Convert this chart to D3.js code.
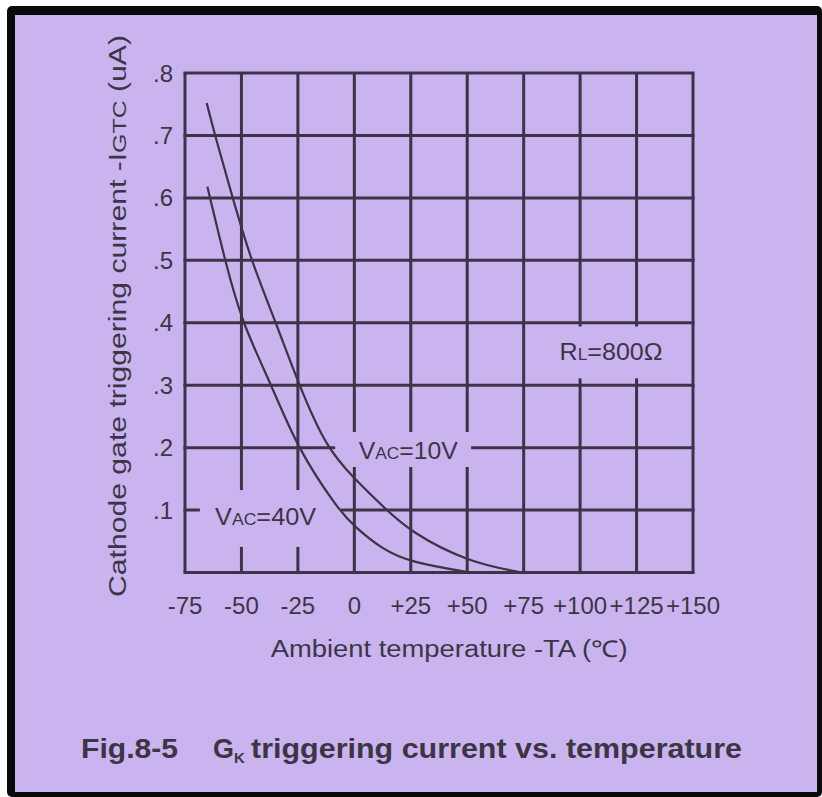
<!DOCTYPE html>
<html>
<head>
<meta charset="utf-8">
<script src="https://cdn.jsdelivr.net/npm/d3@7"></script>
<style>
  html, body { margin: 0; padding: 0; background: #fff; }
  svg { display: block; }
  text { font-family: "Liberation Sans", Arial, sans-serif; fill: #3c3545; }
</style>
</head>
<body>
<div class="chart"></div>
<script>
// axis ticks
var tempTicks = [-75, -50, -25, 0, 25, 50, 75, 100, 125, 150];
var tempLabels = ["-75", "-50", "-25", "0", "+25", "+50", "+75", "+100", "+125", "+150"];
var currentTicks = [0, 0.1, 0.2, 0.3, 0.4, 0.5, 0.6, 0.7, 0.8];
var currentLabels = ["", ".1", ".2", ".3", ".4", ".5", ".6", ".7", ".8"];

// VAC = 10V curve
var temp10V = [-65.4, -61.7, -53.9, -45.8, -34.7, -24.5, -12.5, 0, 14.3, 25, 50, 74.3];
var igt10V = [0.752, 0.70, 0.60, 0.50, 0.40, 0.30, 0.20, 0.150, 0.10, 0.065, 0.017, 0];

// VAC = 40V curve
var temp40V = [-65.1, -63.9, -57.3, -49.8, -36.6, -25.4, -7, 0, 12, 25, 51.5];
var igt40V = [0.618, 0.60, 0.50, 0.40, 0.30, 0.20, 0.10, 0.074, 0.038, 0.016, 0];

var width = 822, height = 797;
var ink = "#3c3446";

var svg = d3.select(".chart").append("svg")
  .attr("width", width).attr("height", height);

// frame
svg.append("rect").attr("x", 7).attr("y", 6).attr("width", 815).attr("height", 791)
  .attr("rx", 5).attr("fill", "#0a0a0a");
svg.append("rect").attr("x", 15).attr("y", 15).attr("width", 802).attr("height", 777)
  .attr("fill", "#c9b4ef");

var x = d3.scaleLinear().domain([-75, 150]).range([185, 693]);
var y = d3.scaleLinear().domain([0, 0.8]).range([572.5, 73]);

// grid
var grid = svg.append("g").attr("stroke", ink).attr("stroke-width", 3);
grid.selectAll(".v").data(tempTicks).enter().append("line")
  .attr("x1", d => x(d)).attr("x2", d => x(d))
  .attr("y1", y(0.8)).attr("y2", y(0));
grid.selectAll(".h").data(currentTicks).enter().append("line")
  .attr("x1", x(-75) - 1.5).attr("x2", x(150) + 1.5)
  .attr("y1", d => y(d)).attr("y2", d => y(d));

// label backgrounds that break the grid
var bg = svg.append("g").attr("fill", "#c9b4ef");
bg.append("rect").attr("x", x(89)).attr("y", y(0.394))
  .attr("width", x(144) - x(89)).attr("height", y(0.311) - y(0.394));
bg.append("rect").attr("x", x(-8.5)).attr("y", y(0.225))
  .attr("width", x(51.7) - x(-8.5)).attr("height", y(0.169) - y(0.225));
bg.append("rect").attr("x", x(-68.4)).attr("y", y(0.132))
  .attr("width", x(-5.9) - x(-68.4)).attr("height", y(0.041) - y(0.132));

// curves
var line = d3.line().curve(d3.curveBasis)
  .x(d => x(d[0])).y(d => y(d[1]));
svg.append("path").datum(d3.zip(temp10V, igt10V))
  .attr("d", line).attr("fill", "none").attr("stroke", ink).attr("stroke-width", 2.2);
svg.append("path").datum(d3.zip(temp40V, igt40V))
  .attr("d", line).attr("fill", "none").attr("stroke", ink).attr("stroke-width", 2.2);

// tick labels
svg.append("g").selectAll("text").data(tempTicks).enter().append("text")
  .attr("x", d => x(d)).attr("y", 613.5)
  .attr("text-anchor", "middle").attr("font-size", 24)
  .text((d, i) => tempLabels[i]);
svg.append("g").selectAll("text").data(currentTicks).enter().append("text")
  .attr("x", 173).attr("y", d => y(d) + 8.5)
  .attr("text-anchor", "end").attr("font-size", 24)
  .text((d, i) => currentLabels[i]);

// axis titles
svg.append("text").attr("x", 270.7).attr("y", 656.5)
  .attr("font-size", 23).attr("textLength", 357).attr("lengthAdjust", "spacingAndGlyphs")
  .text("Ambient temperature  -TA (\u2103)");

var yt = svg.append("text")
  .attr("transform", "translate(126,597) rotate(-90)")
  .attr("font-size", 23).attr("textLength", 562).attr("lengthAdjust", "spacingAndGlyphs");
yt.append("tspan").text("Cathode gate triggering current  -I");
yt.append("tspan").attr("font-size", 19).text("GTC");
yt.append("tspan").text(" (uA)");

// curve labels
function label(cx, cy, big, small, rest, w) {
  var t = svg.append("text").attr("x", x(cx) - w / 2).attr("y", y(cy) + 8.5)
    .attr("font-size", 23).attr("textLength", w).attr("lengthAdjust", "spacingAndGlyphs");
  t.append("tspan").text(big);
  t.append("tspan").attr("font-size", 16).text(small);
  t.append("tspan").text(rest);
}
label(113.7, 0.354, "R", "L", "=800\u03a9", 103);
label(23.9, 0.196, "V", "AC", "=10V", 99);
label(-39.3, 0.089, "V", "AC", "=40V", 101);

// caption
var cap = svg.append("g").attr("font-weight", "bold");
cap.append("text").attr("x", 81).attr("y", 758).attr("font-size", 27)
  .attr("textLength", 97).attr("lengthAdjust", "spacingAndGlyphs").text("Fig.8-5");
var g = cap.append("text").attr("x", 213).attr("y", 758).attr("font-size", 27);
g.append("tspan").text("G");
g.append("tspan").attr("font-size", 15).attr("dy", 5).text("K");
cap.append("text").attr("x", 251).attr("y", 758).attr("font-size", 27)
  .attr("textLength", 491).attr("lengthAdjust", "spacingAndGlyphs")
  .text("triggering current vs. temperature");
</script>
</body>
</html>
